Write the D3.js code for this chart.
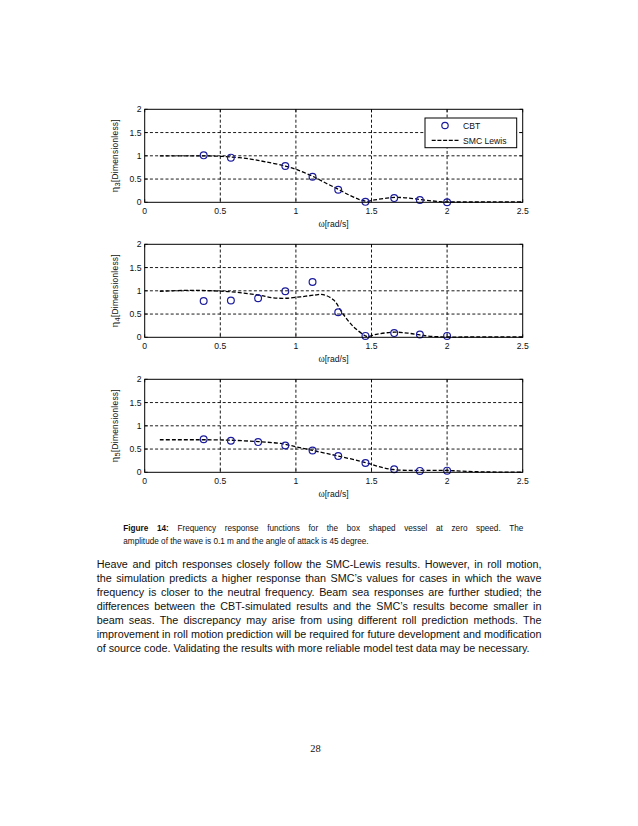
<!DOCTYPE html>
<html><head><meta charset="utf-8">
<script src="https://cdn.jsdelivr.net/npm/d3@7"></script>
<style>html,body{margin:0;padding:0;background:#fff;}svg{display:block;}</style>
</head><body>
<svg id="c" width="638" height="826"></svg>
<script>
// ---- data ----
const omegaCBT = [0.39, 0.57, 0.75, 0.93, 1.11, 1.28, 1.46, 1.65, 1.82, 2.0];
const heaveCBT = [1.01, 0.96, null, 0.78, 0.55, 0.27, 0.01, 0.09, 0.05, 0.0];
const rollCBT  = [0.78, 0.79, 0.84, 0.99, 1.19, 0.54, 0.03, 0.09, 0.06, 0.03];
const pitchCBT = [0.71, 0.68, 0.65, 0.575, 0.47, 0.35, 0.20, 0.065, 0.03, 0.036];

const heaveSMCx = [0.1, 0.3, 0.45, 0.57, 0.7, 0.8, 0.93, 1.0, 1.11, 1.2, 1.28, 1.35, 1.42, 1.47, 1.52, 1.6, 1.67, 1.75, 1.82, 1.9, 1.95, 2.0, 2.1, 2.3, 2.5];
const heaveSMCy = [1.0, 1.0, 0.995, 0.975, 0.93, 0.87, 0.78, 0.71, 0.56, 0.41, 0.28, 0.16, 0.06, 0.02, 0.05, 0.09, 0.105, 0.09, 0.06, 0.03, 0.015, 0.008, 0.006, 0.008, 0.008];

const rollSMCx = [0.1, 0.3, 0.45, 0.57, 0.75, 0.85, 0.93, 1.03, 1.13, 1.18, 1.25, 1.31, 1.38, 1.45, 1.47, 1.54, 1.65, 1.74, 1.82, 1.9, 2.0, 2.2, 2.5];
const rollSMCy = [0.99, 1.01, 1.0, 0.98, 0.91, 0.85, 0.84, 0.87, 0.91, 0.92, 0.8, 0.51, 0.23, 0.05, 0.02, 0.07, 0.11, 0.09, 0.05, 0.02, 0.007, 0.008, 0.01];

const pitchSMCx = [0.1, 0.2, 0.3, 0.4, 0.57, 0.75, 0.9, 0.93, 1.0, 1.11, 1.28, 1.46, 1.55, 1.64, 1.75, 1.82, 2.0, 2.1, 2.2, 2.3, 2.5];
const pitchSMCy = [0.70, 0.70, 0.70, 0.70, 0.69, 0.66, 0.62, 0.60, 0.55, 0.47, 0.35, 0.21, 0.12, 0.06, 0.04, 0.04, 0.04, 0.025, 0.012, 0.006, 0.004];

const xTicks = [0, 0.5, 1, 1.5, 2, 2.5];
const yTicks = [0, 0.5, 1, 1.5, 2];
const xTickLabels = ["0", "0.5", "1", "1.5", "2", "2.5"];
const yTickLabels = ["0", "0.5", "1", "1.5", "2"];
const subscripts = ["3", "4", "5"];
const legendLabels = ["CBT", "SMC Lewis"];

const captionBold = "Figure 14:";
const captionLines = [
  " Frequency response functions for the box shaped vessel at zero speed. The",
  "amplitude of the wave is 0.1 m and the angle of attack is 45 degree."
];
const bodyLines = [
  "Heave and pitch responses closely follow the SMC-Lewis results. However, in roll motion,",
  "the simulation predicts a higher response than SMC\u2019s values for cases in which the wave",
  "frequency is closer to the neutral frequency. Beam sea responses are further studied; the",
  "differences between the CBT-simulated results and the SMC\u2019s results become smaller in",
  "beam seas. The discrepancy may arise from using different roll prediction methods. The",
  "improvement in roll motion prediction will be required for future development and modification",
  "of source code. Validating the results with more reliable model test data may be necessary."
];
const pageNumber = "28";

// ---- drawing ----
const svg = d3.select("#c");
svg.append("rect").attr("width", 638).attr("height", 826).attr("fill", "#fff");
const SANS = "'Liberation Sans', Arial, Helvetica, sans-serif";

const x = d3.scaleLinear().domain([0, 2.5]).range([144.7, 522.7]);
const panelTops = [109.3, 244.3, 379.3];
const panelH = 93;

const panels = [
  {cbt: heaveCBT, sx: heaveSMCx, sy: heaveSMCy},
  {cbt: rollCBT, sx: rollSMCx, sy: rollSMCy},
  {cbt: pitchCBT, sx: pitchSMCx, sy: pitchSMCy}
];

panels.forEach((p, i) => {
  const top = panelTops[i], bot = top + panelH;
  const y = d3.scaleLinear().domain([0, 2]).range([bot, top]);
  const g = svg.append("g");
  const x0 = x.range()[0], x1 = x.range()[1];

  // grid
  g.selectAll(".gx").data(xTicks.slice(1, -1)).join("line")
    .attr("x1", d => x(d)).attr("x2", d => x(d)).attr("y1", top).attr("y2", bot)
    .attr("stroke", "#000").attr("stroke-width", 0.9).attr("stroke-dasharray", "3,2.2");
  g.selectAll(".gy").data(yTicks.slice(1, -1)).join("line")
    .attr("y1", d => y(d)).attr("y2", d => y(d)).attr("x1", x0).attr("x2", x1)
    .attr("stroke", "#000").attr("stroke-width", 0.9).attr("stroke-dasharray", "3,2.2");

  // ticks inward
  xTicks.forEach(t => {
    g.append("line").attr("x1", x(t)).attr("x2", x(t)).attr("y1", bot).attr("y2", bot - 3).attr("stroke", "#000").attr("stroke-width", 0.8);
    g.append("line").attr("x1", x(t)).attr("x2", x(t)).attr("y1", top).attr("y2", top + 3).attr("stroke", "#000").attr("stroke-width", 0.8);
  });
  yTicks.forEach(t => {
    g.append("line").attr("x1", x0).attr("x2", x0 + 3).attr("y1", y(t)).attr("y2", y(t)).attr("stroke", "#000").attr("stroke-width", 0.8);
    g.append("line").attr("x1", x1).attr("x2", x1 - 3).attr("y1", y(t)).attr("y2", y(t)).attr("stroke", "#000").attr("stroke-width", 0.8);
  });

  // SMC curve
  const line = d3.line().x(d => x(d[0])).y(d => y(d[1])).curve(d3.curveCatmullRom.alpha(0.5));
  g.append("path").datum(p.sx.map((v, k) => [v, p.sy[k]]))
    .attr("d", line).attr("fill", "none").attr("stroke", "#000")
    .attr("stroke-width", 1.3).attr("stroke-dasharray", "4,2");

  // CBT points
  const pts = omegaCBT.map((v, k) => [v, p.cbt[k]]).filter(d => d[1] !== null);
  g.selectAll(".pt").data(pts).join("circle")
    .attr("cx", d => x(d[0])).attr("cy", d => y(d[1])).attr("r", 3.4)
    .attr("fill", "none").attr("stroke", "#1c1c9c").attr("stroke-width", 1.2);

  // frame
  g.append("rect").attr("x", x0).attr("y", top).attr("width", x1 - x0).attr("height", panelH)
    .attr("fill", "none").attr("stroke", "#000").attr("stroke-width", 1);

  // tick labels
  g.selectAll(".xl").data(xTicks).join("text")
    .attr("x", d => x(d)).attr("y", bot + 11.3).attr("text-anchor", "middle")
    .attr("font-family", SANS).attr("font-size", 8.6).attr("fill", "#111")
    .text((d, k) => xTickLabels[k]);
  g.selectAll(".yl").data(yTicks).join("text")
    .attr("x", 141.5).attr("y", d => y(d) + 3).attr("text-anchor", "end")
    .attr("font-family", SANS).attr("font-size", 8.6).attr("fill", "#111")
    .text((d, k) => yTickLabels[k]);

  // x label
  const xl = g.append("text").attr("x", 333.5).attr("y", bot + 25).attr("text-anchor", "middle")
    .attr("font-family", SANS).attr("font-size", 8.6).attr("fill", "#111");
  xl.append("tspan").attr("font-family", "'Liberation Serif', 'DejaVu Serif', serif").attr("font-size", 9.5).text("\u03c9");
  xl.append("tspan").text("[rad/s]");

  // y label
  const yl = g.append("text")
    .attr("transform", `translate(117.5,${(top + bot) / 2}) rotate(-90)`)
    .attr("text-anchor", "middle").attr("font-family", SANS).attr("font-size", 8.4).attr("fill", "#111")
    .attr("letter-spacing", 0.25);
  yl.append("tspan").attr("font-family", "'Liberation Serif', 'DejaVu Serif', serif").attr("font-size", 11).text("\u03b7");
  yl.append("tspan").attr("dy", 2.5).attr("font-size", 7.5).text(subscripts[i]);
  yl.append("tspan").attr("dy", -2.5).text("[Dimensionless]");

  // legend (first panel)
  if (i === 0) {
    const lg = svg.append("g");
    lg.append("rect").attr("x", 425).attr("y", 118).attr("width", 91.7).attr("height", 29.7)
      .attr("fill", "#fff").attr("stroke", "#000").attr("stroke-width", 1);
    lg.append("circle").attr("cx", 445).attr("cy", 125.5).attr("r", 3.2)
      .attr("fill", "none").attr("stroke", "#1c1c9c").attr("stroke-width", 1.2);
    lg.append("line").attr("x1", 431.7).attr("x2", 459).attr("y1", 140.3).attr("y2", 140.3)
      .attr("stroke", "#000").attr("stroke-width", 1.3).attr("stroke-dasharray", "4,1.7");
    legendLabels.forEach((t, k) => {
      lg.append("text").attr("x", 463).attr("y", 128.5 + k * 15).attr("font-family", SANS)
        .attr("font-size", 8.6).attr("fill", "#111").text(t);
    });
  }
});

// ---- caption ----
function justify(el, target) {
  const nat = el.node().getComputedTextLength();
  const txt = el.text();
  const spaces = (txt.match(/ /g) || []).length;
  if (spaces > 0) el.attr("word-spacing", (target - nat) / spaces);
}
// calibrate caption font from the natural last line width
const capProbe = svg.append("text").attr("font-family", SANS).attr("font-size", 10).text(captionLines[1]);
const capFont = 10 * 246 / capProbe.node().getComputedTextLength();
capProbe.remove();

const cap1 = svg.append("text").attr("x", 123.3).attr("y", 530.5)
  .attr("font-family", SANS).attr("font-size", capFont).attr("fill", "#111");
cap1.append("tspan").attr("font-weight", "bold").text(captionBold);
cap1.append("tspan").text(captionLines[0]);
justify(cap1, 400);
svg.append("text").attr("x", 123.3).attr("y", 543.5)
  .attr("font-family", SANS).attr("font-size", capFont).attr("fill", "#111").text(captionLines[1]);

// ---- body text ----
const bodyProbe = svg.append("text").attr("font-family", SANS).attr("font-size", 10).text(bodyLines[6]);
const bodyFont = 10 * 433.3 / bodyProbe.node().getComputedTextLength();
bodyProbe.remove();
bodyLines.forEach((t, k) => {
  const el = svg.append("text").attr("x", 96.7).attr("y", 567.8 + k * 14.05)
    .attr("font-family", SANS).attr("font-size", bodyFont).attr("fill", "#111").text(t);
  if (k < bodyLines.length - 1) justify(el, 444.8);
});

// ---- page number ----
svg.append("text").attr("x", 315.5).attr("y", 751.5).attr("text-anchor", "middle")
  .attr("font-family", "'Liberation Serif', 'Times New Roman', serif").attr("font-size", 10.5)
  .attr("fill", "#111").text(pageNumber);
</script>
</body></html>
